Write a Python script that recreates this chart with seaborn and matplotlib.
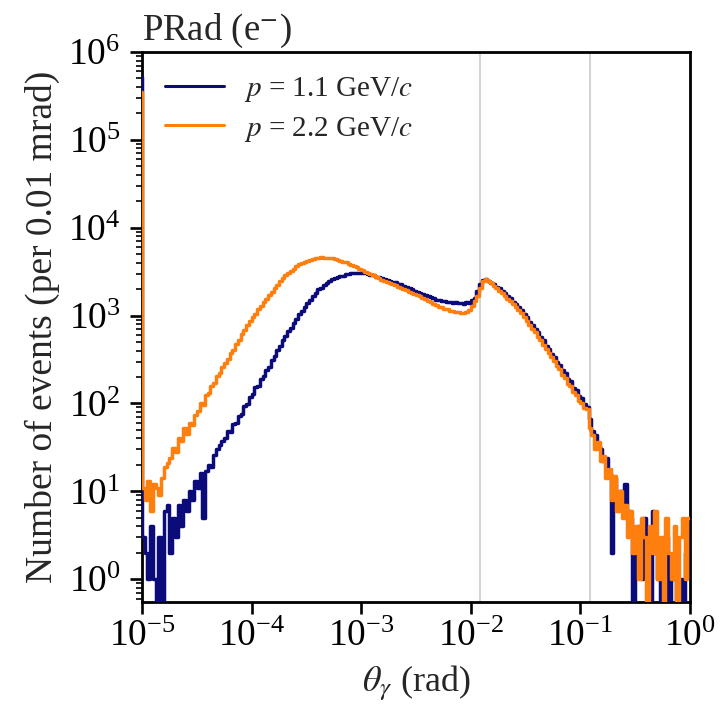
import numpy as np
import pandas as pd
import matplotlib
matplotlib.use("Agg")
import matplotlib.pyplot as plt
import seaborn as sns
from matplotlib.ticker import LogLocator, NullLocator, NullFormatter

# ---------------- data ----------------
# log-spaced bins from 1e-5 to 1 rad (40 per decade) plus an underflow bin [0, 1e-5)
bins_per_decade = 40
n_bins = 5 * bins_per_decade
bin_edges = np.concatenate([[0.0], np.logspace(-5, 0, n_bins + 1)])

underflow_11 = 5.2e5
underflow_22 = 3.5e5

counts_11 = [
    3, 2, 1, 4, 1, 0, 3, 0, 6, 7,
    2, 5, 3, 7, 4, 8, 6, 10, 8, 13,
    11, 16, 5, 17, 20, 19, 26, 30, 34, 37,
    40, 49, 47, 58, 60, 72, 76, 94, 99, 117,
    128, 152, 160, 192, 204, 240, 262, 315, 348, 405,
    450, 532, 580, 670, 725, 825, 905, 1030, 1125, 1260,
    1390, 1505, 1680, 1830, 1985, 2070, 2215, 2320, 2465, 2590,
    2690, 2725, 2810, 2850, 2940, 2980, 3030, 3030, 3070, 3040,
    3060, 3020, 3000, 2905, 2860, 2770, 2725, 2650, 2600, 2530,
    2490, 2420, 2385, 2310, 2275, 2190, 2135, 2050, 2000, 1930,
    1880, 1810, 1775, 1705, 1675, 1610, 1585, 1520, 1495, 1460,
    1460, 1430, 1445, 1400, 1420, 1375, 1395, 1365, 1410, 1395,
    1490, 1590, 1920, 2300, 2510, 2580, 2490, 2350, 2260, 2140,
    2060, 1915, 1810, 1665, 1575, 1445, 1370, 1260, 1170, 1045,
    960, 850, 785, 695, 645, 565, 525, 455, 420, 368,
    340, 296, 275, 238, 221, 190, 178, 150, 142, 122,
    114, 98, 92, 66, 48, 44, 33, 30, 22, 24,
    16, 2, 14, 9, 10, 7, 12, 6, 5, 0,
    3, 4, 1, 5, 2, 0, 6, 2, 1, 0,
    2, 3, 0, 1, 2, 0, 1, 0, 2, 3,
]

counts_22 = [
    11, 8, 13, 6, 12, 11, 9, 14, 19, 21,
    24, 31, 28, 40, 37, 52, 45, 60, 57, 74,
    82, 101, 96, 124, 132, 160, 170, 205, 222, 262,
    292, 318, 372, 408, 475, 530, 612, 684, 785, 862,
    975, 1050, 1185, 1280, 1420, 1560, 1730, 1875, 2075, 2230,
    2470, 2680, 2880, 3030, 3240, 3410, 3650, 3840, 3990, 4060,
    4180, 4310, 4400, 4540, 4560, 4590, 4520, 4540, 4490, 4470,
    4390, 4280, 4210, 4090, 4030, 3910, 3810, 3650, 3540, 3390,
    3290, 3150, 3060, 2940, 2860, 2745, 2670, 2570, 2505, 2415,
    2350, 2270, 2210, 2125, 2070, 2000, 1945, 1870, 1825, 1760,
    1705, 1660, 1590, 1540, 1470, 1430, 1365, 1320, 1265, 1240,
    1200, 1185, 1140, 1125, 1090, 1110, 1060, 1080, 1100, 1170,
    1290, 1450, 1690, 2080, 2460, 2620, 2490, 2320, 2190, 2040,
    1930, 1790, 1680, 1540, 1450, 1340, 1265, 1150, 1070, 955,
    860, 790, 700, 650, 575, 525, 460, 420, 372, 340,
    305, 265, 244, 212, 196, 168, 157, 134, 126, 108,
    100, 88, 86, 52, 44, 30, 36, 22, 25, 14,
    18, 8, 15, 6, 10, 5, 7, 3, 6, 2,
    4, 1, 5, 3, 0, 4, 2, 6, 1, 3,
    0, 5, 2, 1, 4, 0, 3, 5, 1, 5,
]

labels = [r"$p$ = 1.1 GeV/$c$", r"$p$ = 2.2 GeV/$c$"]
colors = ["#0b0b7a", "#ff7f0e"]

# acceptance boundaries (0.7 deg and 7 deg)
acceptance_deg = [0.7, 7.0]

# ---------------- figure ----------------
sns.set_style("ticks")
plt.rcParams["font.family"] = ["Liberation Serif", "DejaVu Serif"]
plt.rcParams["mathtext.fontset"] = "stix"

fig = plt.figure(figsize=(7.2, 7.06), dpi=100)
ax = fig.add_axes([142 / 720, 104 / 706, 548 / 720, 550 / 706])

for vals, under, lab, col in [
    (counts_11, underflow_11, labels[0], colors[0]),
    (counts_22, underflow_22, labels[1], colors[1]),
]:
    y = np.concatenate([[under], vals, [vals[-1]]]).astype(float)
    df = pd.DataFrame({"x": bin_edges, "y": y})
    sns.lineplot(data=df, x="x", y="y", ax=ax, color=col, lw=2.5,
                 drawstyle="steps-post", estimator=None, sort=False,
                 label=lab, zorder=3)

for d in acceptance_deg:
    ax.axvline(np.deg2rad(d), color="#d4d4d4", lw=1.5, zorder=1)

ax.set_xscale("log")
ax.set_yscale("log")
ax.set_xlim(1e-5, 1)
ax.set_ylim(0.55, 1e6)

ax.xaxis.set_major_locator(LogLocator(base=10, numticks=10))
ax.xaxis.set_minor_locator(NullLocator())
ax.yaxis.set_major_locator(LogLocator(base=10, numticks=10))
ax.yaxis.set_minor_locator(LogLocator(base=10, subs=np.arange(2, 10), numticks=20))
ax.yaxis.set_minor_formatter(NullFormatter())

ax.tick_params(axis="both", which="major", direction="out", length=8.5, width=1.9,
               labelsize=27, colors="black")
ax.tick_params(axis="y", which="major", pad=7)
ax.tick_params(axis="x", which="major", pad=4)
ax.tick_params(axis="y", which="minor", direction="out", length=4.5, width=1.4)

for s in ax.spines.values():
    s.set_visible(True)
    s.set_linewidth(2.0)
    s.set_color("black")

ax.set_xlabel(r"$\theta_\gamma$ (rad)", fontsize=26, labelpad=7)
ax.set_ylabel("Number of events (per 0.01 mrad)", fontsize=27, labelpad=6)
ax.set_title(r"PRad (e$^{-}$)", loc="left", fontsize=26.5, pad=9)

leg = ax.legend(loc="upper left", frameon=False, fontsize=21,
                handlelength=2.0, handletextpad=0.7, labelspacing=0.35,
                borderaxespad=0.4)
for h in leg.get_lines():
    h.set_linewidth(2.2)

fig.savefig("out.png", dpi=100)
